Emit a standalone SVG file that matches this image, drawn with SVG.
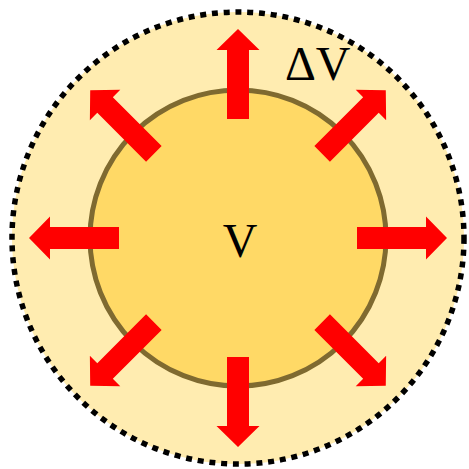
<svg xmlns="http://www.w3.org/2000/svg" xmlns:xlink="http://www.w3.org/1999/xlink" width="469" height="469" viewBox="0 0 469 469">
  <style>
    .lbl { font-family: "Liberation Serif", "Times New Roman", serif; font-size: 48px; fill: #000; }
    .arrow { fill: #ff0000; }
  </style>
  <defs>
    <polygon id="arr" class="arrow" points="-11,-119 -11,-188 -21.5,-188 0,-209 21.5,-188 11,-188 11,-119"/>
  </defs>
  <rect width="469" height="469" fill="#ffffff"/>
  <g id="outer">
    <circle cx="238" cy="238" r="226" fill="#ffecb0" stroke="#000000" stroke-width="5.5" stroke-dasharray="6 5.8"/>
    <text class="lbl" x="285" y="80">ΔV</text>
  </g>
  <g id="inner">
    <circle cx="238" cy="238" r="148" fill="#ffd966" stroke="#7f6a30" stroke-width="5"/>
    <text class="lbl" x="240" y="257" text-anchor="middle">V</text>
  </g>
  <g id="connectors" transform="translate(238,238)">
    <use xlink:href="#arr" transform="rotate(0)"/>
    <use xlink:href="#arr" transform="rotate(45)"/>
    <use xlink:href="#arr" transform="rotate(90)"/>
    <use xlink:href="#arr" transform="rotate(135)"/>
    <use xlink:href="#arr" transform="rotate(180)"/>
    <use xlink:href="#arr" transform="rotate(225)"/>
    <use xlink:href="#arr" transform="rotate(270)"/>
    <use xlink:href="#arr" transform="rotate(315)"/>
  </g>
</svg>
